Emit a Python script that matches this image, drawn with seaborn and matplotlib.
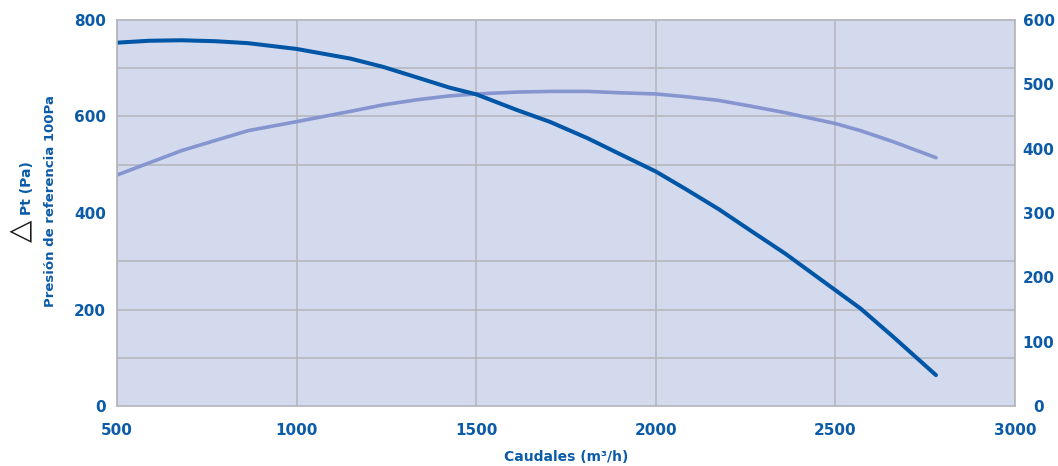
import matplotlib
matplotlib.use("Agg")
import matplotlib.pyplot as plt
from matplotlib.ticker import MultipleLocator
import seaborn as sns
import pandas as pd

# ---- data ----
flow = [500, 590, 680, 775, 865, 1000, 1150, 1240, 1335, 1425, 1500, 1615, 1705,
        1810, 1895, 2000, 2080, 2175, 2265, 2360, 2500, 2570, 2660, 2780]
pressure = [753, 757, 758, 756, 752, 740, 720, 703, 681, 660, 646, 613, 589,
            555, 524, 486, 451, 408, 363, 316, 240, 202, 144, 64]          # left axis (Pa)
secondary = [359, 378, 397, 413, 428, 442, 458, 468, 476, 482, 485, 488, 489,
             489, 487, 485, 481, 475, 466, 456, 439, 428, 411, 386]        # right axis

x_ticks = [500, 1000, 1500, 2000, 2500, 3000]
left_ticks = [0, 200, 400, 600, 800]
right_ticks = [0, 100, 200, 300, 400, 500, 600]

df = pd.DataFrame({"flow": flow, "pressure": pressure, "secondary": secondary})

BLUE_TXT = "#0B5BA8"
DARK = "#0056A6"
LIGHT = "#8595D0"
BG = "#D4DAED"
GRID = "#B3B3BB"

sns.set_style("white")
plt.rcParams["font.family"] = ["DejaVu Sans"]

fig = plt.figure(figsize=(10.58, 4.66), dpi=100)
ax = fig.add_axes([117 / 1058, 60 / 466, 898 / 1058, 386 / 466])
ax2 = ax.twinx()

# bottom axes (ax2): background, grid, light curve; top axes (ax): dark curve
ax.set_zorder(2)
ax2.set_zorder(1)
ax.patch.set_visible(False)
ax2.patch.set_visible(True)
ax2.patch.set_facecolor(BG)
ax2.xaxis.set_visible(True)

sns.lineplot(data=df, x="flow", y="secondary", ax=ax2, color=LIGHT, linewidth=2.6)
sns.lineplot(data=df, x="flow", y="pressure", ax=ax, color=DARK, linewidth=2.9)

ax.set_xlim(500, 3000)
ax.set_ylim(0, 800)
ax2.set_ylim(0, 600)

ax.set_xticks(x_ticks)
ax.set_yticks(left_ticks)
ax2.set_yticks(right_ticks)
ax2.yaxis.set_minor_locator(MultipleLocator(75))

ax2.grid(True, which="major", axis="x", color=GRID, linewidth=1.1)
ax2.grid(True, which="minor", axis="y", color=GRID, linewidth=1.1)
ax2.grid(False, which="major", axis="y")
ax.grid(False)
ax2.tick_params(axis="x", which="both", length=0, labelbottom=False, labeltop=False)
ax2.tick_params(axis="y", which="minor", length=0)

for s in ax.spines.values():
    s.set_color(GRID)
    s.set_linewidth(1.2)
for s in ax2.spines.values():
    s.set_visible(False)

tick_font = dict(labelsize=11, labelcolor=BLUE_TXT, length=0)
ax.tick_params(axis="x", pad=12, **tick_font)
ax.tick_params(axis="y", pad=8, **tick_font)
ax2.tick_params(axis="y", which="major", pad=17, **tick_font)
for lab in ax.get_xticklabels() + ax.get_yticklabels() + ax2.get_yticklabels():
    lab.set_fontweight("bold")
for lab in ax2.get_yticklabels():
    lab.set_horizontalalignment("center")

ax.set_xlabel("Caudales (m³/h)", color=BLUE_TXT, fontsize=10, fontweight="bold", labelpad=9)
ax2.set_xlabel("")
ax.set_ylabel("")
ax2.set_ylabel("")

fig.text(51 / 1058, 1 - 201 / 466, "Presión de referencia 100Pa", rotation=90,
         ha="center", va="center", color=BLUE_TXT, fontsize=9.5, fontweight="bold")
fig.text(27 / 1058, 1 - 188 / 466, "Pt (Pa)", rotation=90,
         ha="center", va="center", color=BLUE_TXT, fontsize=10, fontweight="bold")
fig.text(21 / 1058, 1 - 231 / 466, "△", rotation=90,
         ha="center", va="center", color="#1A1A1A", fontsize=21)

fig.savefig("out.png", dpi=100)
